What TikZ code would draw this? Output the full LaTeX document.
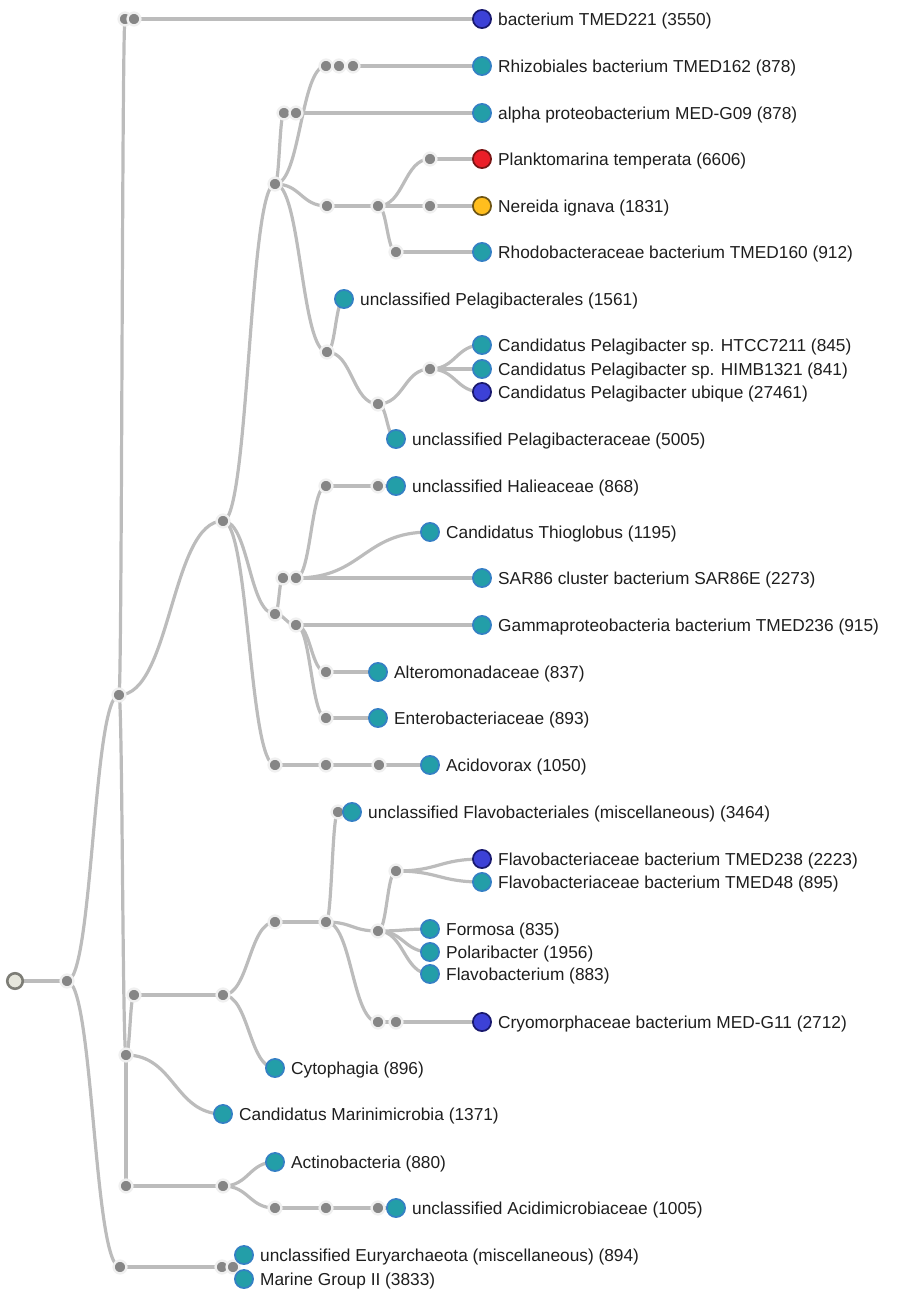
\documentclass[tikz,border=0pt]{standalone}
\usepackage{fontspec}
\setmainfont{Liberation Sans}
\usetikzlibrary{calc}
\pgfdeclarelayer{bg}
\pgfsetlayers{bg,main}
\definecolor{linkc}{RGB}{188,188,188}
\definecolor{dotc}{RGB}{134,134,134}
\definecolor{haloc}{RGB}{240,240,240}
\definecolor{tealf}{RGB}{35,158,168}
\definecolor{tealb}{RGB}{52,128,196}
\definecolor{bluef}{RGB}{60,65,215}
\definecolor{blueb}{RGB}{25,25,110}
\definecolor{redf}{RGB}{235,30,40}
\definecolor{redb}{RGB}{120,20,20}
\definecolor{yelf}{RGB}{255,190,30}
\definecolor{yelb}{RGB}{110,85,20}
\definecolor{txtc}{RGB}{30,30,30}
\definecolor{rootf}{RGB}{230,230,220}
\definecolor{rootb}{RGB}{125,125,118}
\tikzset{
  dotnode/.style={circle, inner sep=0pt, minimum size=12.8pt, fill=dotc, draw=haloc, line width=2.4pt},
  leafnode/.style={circle, inner sep=0pt, minimum size=18.2pt, line width=1.7pt, fill=tealf, draw=tealb},
  bleaf/.style={leafnode, fill=bluef, draw=blueb},
  rleaf/.style={leafnode, fill=redf, draw=redb},
  yleaf/.style={leafnode, fill=yelf, draw=yelb},
  rootnode/.style={circle, inner sep=0pt, minimum size=15.5pt, line width=2.6pt, fill=rootf, draw=rootb},
  linkline/.style={draw=linkc, line width=3.2pt},
  lbl/.style={anchor=base west, inner sep=0pt, text=txtc, font=\fontsize{17.3}{20}\selectfont}
}
\newcommand\lk[2]{\draw[linkline] let \p1=(#1), \p2=(#2) in (\p1) .. controls ({(\x1+\x2)/2},\y1) and ({(\x1+\x2)/2},\y2) .. (\p2);}
\newcommand\lab[3]{\node[lbl] (#1) at ($(#2)+(16,6.2)$) {#3};}
\begin{document}
\begin{tikzpicture}[x=1pt,y=-1pt]
\useasboundingbox (0,0) rectangle (896,1289);
% root and trunk
\node[rootnode] (r) at (15,981) {};
\node[dotnode] (A) at (67,981) {};
\node[dotnode] (B) at (119,695) {};
\node[dotnode] (D) at (120,1267) {};
\node[dotnode] (E) at (126,1055) {};
% top
\node[dotnode] (t1a) at (125,19) {};
\node[dotnode] (t1b) at (134,19) {};
\node[bleaf] (L1) at (482,19) {};
% alpha
\node[dotnode] (P) at (223,521) {};
\node[dotnode] (Q) at (275,184) {};
\node[dotnode] (q2a) at (326,66) {};
\node[dotnode] (q2b) at (339,66) {};
\node[dotnode] (q2c) at (353,66) {};
\node[leafnode] (L2) at (482,66) {};
\node[dotnode] (q1a) at (284,113) {};
\node[dotnode] (q1b) at (296,113) {};
\node[leafnode] (L3) at (482,113) {};
\node[dotnode] (R) at (327,206) {};
\node[dotnode] (R2) at (378,206) {};
\node[dotnode] (r3) at (430,159) {};
\node[dotnode] (r4) at (430,206) {};
\node[dotnode] (r5) at (396,252) {};
\node[rleaf] (L4) at (482,159) {};
\node[yleaf] (L5) at (482,206) {};
\node[leafnode] (L6) at (482,252) {};
\node[dotnode] (S) at (327,352) {};
\node[leafnode] (L7) at (344,299) {};
\node[dotnode] (S2) at (378,404) {};
\node[dotnode] (S3) at (430,369) {};
\node[leafnode] (L8) at (482,345) {};
\node[leafnode] (L9) at (482,369) {};
\node[bleaf] (L10) at (482,392) {};
\node[leafnode] (L11) at (396,439) {};
% gamma
\node[dotnode] (G) at (275,614) {};
\node[dotnode] (g1a) at (283,578) {};
\node[dotnode] (g1b) at (296,578) {};
\node[dotnode] (h1) at (326,486) {};
\node[dotnode] (h2) at (378,486) {};
\node[leafnode] (L12) at (396,486) {};
\node[leafnode] (L13) at (430,532) {};
\node[leafnode] (L14) at (482,578) {};
\node[dotnode] (g2) at (296,625) {};
\node[leafnode] (L15) at (482,625) {};
\node[dotnode] (g3) at (326,672) {};
\node[leafnode] (L16) at (378,672) {};
\node[dotnode] (g4) at (326,718) {};
\node[leafnode] (L17) at (378,718) {};
\node[dotnode] (k1) at (275,765) {};
\node[dotnode] (k2) at (326,765) {};
\node[dotnode] (k3) at (379,765) {};
\node[leafnode] (L18) at (430,765) {};
% bacteroidetes
\node[dotnode] (F) at (134,995) {};
\node[dotnode] (F2) at (223,995) {};
\node[dotnode] (F3) at (275,922) {};
\node[dotnode] (F4) at (326,922) {};
\node[dotnode] (f5) at (338,812) {};
\node[leafnode] (L19) at (352,812) {};
\node[dotnode] (F6) at (378,931) {};
\node[dotnode] (F7) at (396,871) {};
\node[bleaf] (L20) at (482,859) {};
\node[leafnode] (L21) at (482,882) {};
\node[leafnode] (L22) at (430,929) {};
\node[leafnode] (L23) at (430,952) {};
\node[leafnode] (L24) at (430,974) {};
\node[dotnode] (c1) at (378,1022) {};
\node[dotnode] (c2) at (396,1022) {};
\node[bleaf] (L25) at (482,1022) {};
\node[leafnode] (L26) at (275,1068) {};
\node[leafnode] (L27) at (223,1114) {};
% actino
\node[dotnode] (H) at (126,1186) {};
\node[dotnode] (H2) at (223,1186) {};
\node[leafnode] (L28) at (275,1162) {};
\node[dotnode] (h3) at (275,1208) {};
\node[dotnode] (h4) at (326,1208) {};
\node[dotnode] (h5) at (378,1208) {};
\node[leafnode] (L29) at (396,1208) {};
% archaea
\node[dotnode] (d1) at (222,1267) {};
\node[dotnode] (d2) at (233,1267) {};
\node[leafnode] (L30) at (244,1255) {};
\node[leafnode] (L31) at (244,1279) {};
% links
\begin{pgfonlayer}{bg}
\lk{r}{A}\lk{A}{B}\lk{A}{D}\lk{B}{E}
\lk{B}{t1a}\lk{t1a}{t1b}\lk{t1b}{L1}
\lk{B}{P}\lk{P}{Q}
\lk{Q}{q2a}\lk{q2a}{q2b}\lk{q2b}{q2c}\lk{q2c}{L2}
\lk{Q}{q1a}\lk{q1a}{q1b}\lk{q1b}{L3}
\lk{Q}{R}\lk{R}{R2}\lk{R2}{r3}\lk{R2}{r4}\lk{R2}{r5}
\lk{r3}{L4}\lk{r4}{L5}\lk{r5}{L6}
\lk{Q}{S}\lk{S}{L7}\lk{S}{S2}\lk{S2}{S3}\lk{S3}{L8}\lk{S3}{L9}\lk{S3}{L10}\lk{S2}{L11}
\lk{P}{G}\lk{G}{g1a}\lk{g1a}{g1b}
\lk{g1b}{h1}\lk{h1}{h2}\lk{h2}{L12}\lk{g1b}{L13}\lk{g1b}{L14}
\lk{G}{g2}\lk{g2}{L15}\lk{g2}{g3}\lk{g3}{L16}\lk{g2}{g4}\lk{g4}{L17}
\lk{P}{k1}\lk{k1}{k2}\lk{k2}{k3}\lk{k3}{L18}
\lk{E}{F}\lk{F}{F2}\lk{F2}{F3}\lk{F3}{F4}
\lk{F4}{f5}\lk{f5}{L19}\lk{F4}{F6}\lk{F6}{F7}\lk{F7}{L20}\lk{F7}{L21}
\lk{F6}{L22}\lk{F6}{L23}\lk{F6}{L24}
\lk{F4}{c1}\lk{c1}{c2}\lk{c2}{L25}
\lk{F2}{L26}\lk{E}{L27}
\lk{E}{H}\lk{H}{H2}\lk{H2}{L28}\lk{H2}{h3}\lk{h3}{h4}\lk{h4}{h5}\lk{h5}{L29}
\lk{D}{d1}\lk{d1}{d2}\lk{d2}{L30}\lk{d2}{L31}
\end{pgfonlayer}
% labels
\lab{T1}{L1}{bacterium TMED221 (3550)}
\lab{T2}{L2}{Rhizobiales bacterium TMED162 (878)}
\lab{T3}{L3}{alpha proteobacterium MED-G09 (878)}
\lab{T4}{L4}{Planktomarina temperata (6606)}
\lab{T5}{L5}{Nereida ignava (1831)}
\lab{T6}{L6}{Rhodobacteraceae bacterium TMED160 (912)}
\lab{T7}{L7}{unclassified Pelagibacterales (1561)}
\lab{T8}{L8}{Candidatus Pelagibacter sp. HTCC7211 (845)}
\lab{T9}{L9}{Candidatus Pelagibacter sp. HIMB1321 (841)}
\lab{T10}{L10}{Candidatus Pelagibacter ubique (27461)}
\lab{T11}{L11}{unclassified Pelagibacteraceae (5005)}
\lab{T12}{L12}{unclassified Halieaceae (868)}
\lab{T13}{L13}{Candidatus Thioglobus (1195)}
\lab{T14}{L14}{SAR86 cluster bacterium SAR86E (2273)}
\lab{T15}{L15}{Gammaproteobacteria bacterium TMED236 (915)}
\lab{T16}{L16}{Alteromonadaceae (837)}
\lab{T17}{L17}{Enterobacteriaceae (893)}
\lab{T18}{L18}{Acidovorax (1050)}
\lab{T19}{L19}{unclassified Flavobacteriales (miscellaneous) (3464)}
\lab{T20}{L20}{Flavobacteriaceae bacterium TMED238 (2223)}
\lab{T21}{L21}{Flavobacteriaceae bacterium TMED48 (895)}
\lab{T22}{L22}{Formosa (835)}
\lab{T23}{L23}{Polaribacter (1956)}
\lab{T24}{L24}{Flavobacterium (883)}
\lab{T25}{L25}{Cryomorphaceae bacterium MED-G11 (2712)}
\lab{T26}{L26}{Cytophagia (896)}
\lab{T27}{L27}{Candidatus Marinimicrobia (1371)}
\lab{T28}{L28}{Actinobacteria (880)}
\lab{T29}{L29}{unclassified Acidimicrobiaceae (1005)}
\lab{T30}{L30}{unclassified Euryarchaeota (miscellaneous) (894)}
\lab{T31}{L31}{Marine Group II (3833)}
\end{tikzpicture}
\end{document}
